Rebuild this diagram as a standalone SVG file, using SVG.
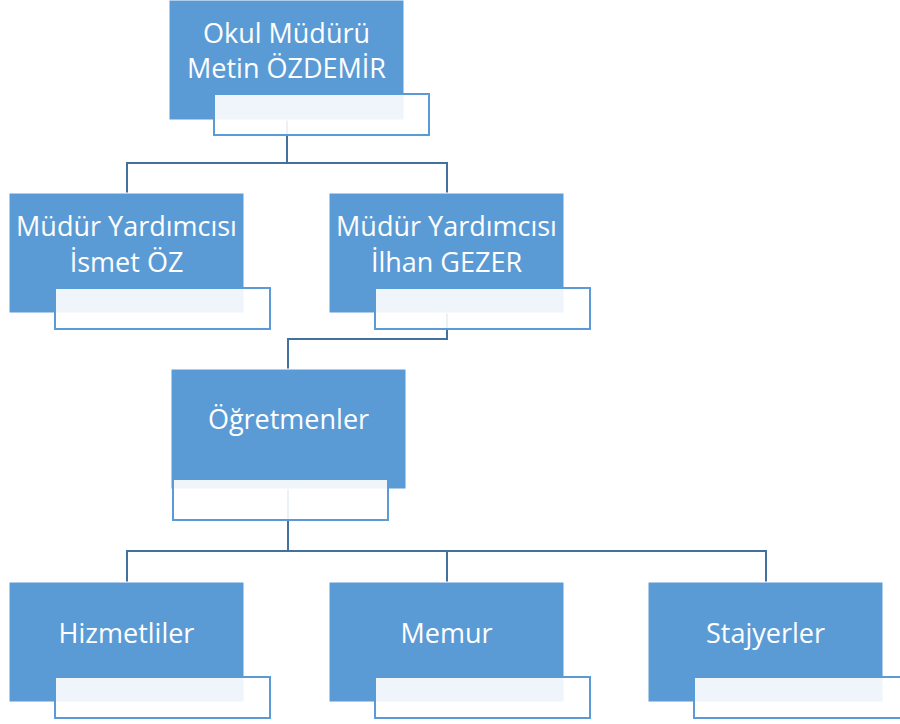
<svg xmlns="http://www.w3.org/2000/svg" width="900" height="724" viewBox="0 0 900 724">
<style>
.box{fill:#5B9BD5;stroke:#FFFFFF;stroke-width:1}
.sub{fill:#FFFFFF;fill-opacity:0.9;stroke:#5B9BD5;stroke-width:2}
.t{font-family:"Open Sans","Noto Sans",sans-serif;font-size:27px;fill:#FFFFFF;text-anchor:middle}
.c{fill:none;stroke:#41719C;stroke-width:2}
</style>
<rect width="900" height="724" fill="#FFFFFF"/>
<g id="connectors">
<path class="c" d="M287,120 V163 M127,193 V163 H447 V193"/>
<path class="c" d="M447,313 V339 H288 V369"/>
<path class="c" d="M288,489 V551 M127,582 V551 H766 V582 M447,551 V582"/>
</g>
<g id="mudur">
<rect class="box" x="169" y="0" width="235" height="120"/>
<rect class="sub" x="214" y="94" width="215" height="41"/>
<text class="t" x="286.5" y="43">Okul Müdürü</text>
<text class="t" x="286.5" y="78">Metin ÖZDEMİR</text>
</g>
<g id="yard1">
<rect class="box" x="9" y="193" width="235" height="120"/>
<rect class="sub" x="55" y="288" width="215" height="41"/>
<text class="t" x="126.5" y="236">Müdür Yardımcısı</text>
<text class="t" x="126.5" y="272">İsmet ÖZ</text>
</g>
<g id="yard2">
<rect class="box" x="329" y="193" width="235" height="120"/>
<rect class="sub" x="375" y="288" width="215" height="41"/>
<text class="t" x="446.5" y="236">Müdür Yardımcısı</text>
<text class="t" x="446.5" y="272">İlhan GEZER</text>
</g>
<g id="ogretmenler">
<rect class="box" x="171" y="369" width="235" height="120"/>
<rect class="sub" x="173" y="479" width="215" height="41"/>
<text class="t" x="288.5" y="429">Öğretmenler</text>
</g>
<g id="hizmetliler">
<rect class="box" x="9" y="582" width="235" height="120"/>
<rect class="sub" x="55" y="677" width="215" height="41"/>
<text class="t" x="126.5" y="643">Hizmetliler</text>
</g>
<g id="memur">
<rect class="box" x="329" y="582" width="235" height="120"/>
<rect class="sub" x="375" y="677" width="215" height="41"/>
<text class="t" x="446.5" y="643">Memur</text>
</g>
<g id="stajyerler">
<rect class="box" x="648" y="582" width="235" height="120"/>
<rect class="sub" x="694" y="677" width="215" height="41"/>
<text class="t" x="765.5" y="643">Stajyerler</text>
</g>
</svg>
